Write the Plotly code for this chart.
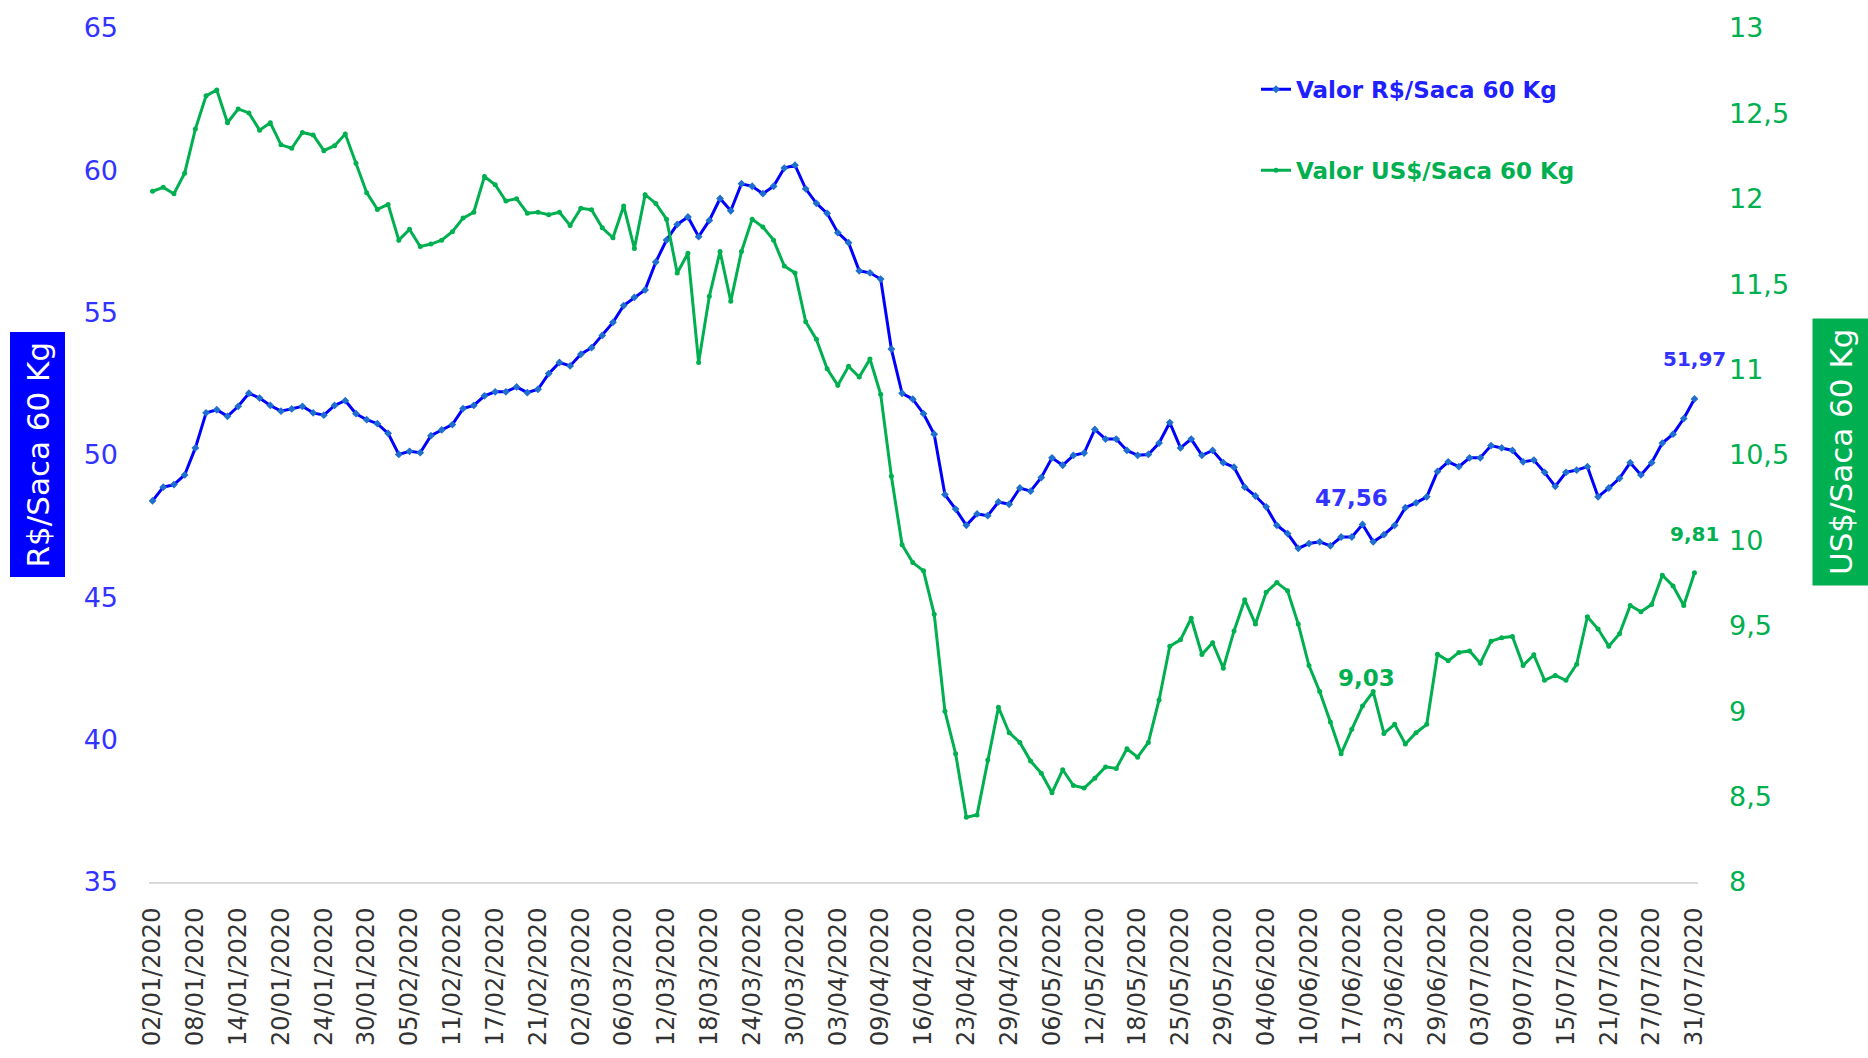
import plotly.graph_objects as go
import pandas as pd

# ---------------- data ----------------
holidays = ["2020-02-24", "2020-02-25", "2020-04-10", "2020-04-21",
            "2020-05-01", "2020-05-20", "2020-06-11"]
dates = [d.strftime("%d/%m/%Y") for d in pd.bdate_range("2020-01-02", "2020-07-31")
         if d.strftime("%Y-%m-%d") not in holidays]

brl = [48.39, 48.87, 48.96, 49.30, 50.25, 51.48, 51.59, 51.36, 51.71, 52.17,
       52.00, 51.74, 51.54, 51.62, 51.71, 51.48, 51.40, 51.74, 51.91, 51.45,
       51.24, 51.10, 50.76, 50.02, 50.13, 50.08, 50.68, 50.88, 51.07, 51.63,
       51.74, 52.08, 52.22, 52.22, 52.39, 52.19, 52.31, 52.86, 53.25, 53.13,
       53.54, 53.77, 54.20, 54.66, 55.25, 55.54, 55.80, 56.78, 57.55, 58.10,
       58.36, 57.67, 58.24, 59.01, 58.58, 59.53, 59.44, 59.18, 59.44, 60.08,
       60.18, 59.35, 58.84, 58.49, 57.81, 57.46, 56.47, 56.40, 56.18, 53.72,
       52.17, 51.96, 51.45, 50.73, 48.61, 48.10, 47.53, 47.93, 47.87, 48.35,
       48.27, 48.84, 48.73, 49.21, 49.90, 49.64, 49.99, 50.07, 50.90, 50.56,
       50.56, 50.16, 49.99, 50.02, 50.42, 51.14, 50.25, 50.56, 49.99, 50.16,
       49.73, 49.57, 48.87, 48.56, 48.18, 47.53, 47.24, 46.72, 46.89, 46.95,
       46.81, 47.12, 47.12, 47.56, 46.95, 47.20, 47.53, 48.15, 48.32, 48.53,
       49.42, 49.76, 49.59, 49.90, 49.90, 50.33, 50.25, 50.16, 49.76, 49.82,
       49.39, 48.90, 49.39, 49.47, 49.59, 48.53, 48.84, 49.18, 49.73, 49.30,
       49.73, 50.42, 50.73, 51.28, 51.97]

usd = [12.044, 12.067, 12.030, 12.150, 12.408, 12.603, 12.637, 12.445, 12.526, 12.503,
       12.402, 12.445, 12.316, 12.296, 12.388, 12.374, 12.282, 12.311, 12.379, 12.208,
       12.036, 11.938, 11.967, 11.758, 11.821, 11.721, 11.735, 11.758, 11.807, 11.887,
       11.921, 12.130, 12.082, 11.987, 12.001, 11.916, 11.921, 11.907, 11.921, 11.844,
       11.944, 11.936, 11.830, 11.772, 11.958, 11.709, 12.024, 11.973, 11.881, 11.566,
       11.681, 11.042, 11.429, 11.692, 11.400, 11.692, 11.881, 11.835, 11.758, 11.606,
       11.566, 11.280, 11.177, 11.005, 10.908, 11.019, 10.956, 11.062, 10.856, 10.375,
       9.974, 9.870, 9.822, 9.567, 9.000, 8.751, 8.379, 8.393, 8.714, 9.023,
       8.874, 8.817, 8.708, 8.637, 8.522, 8.657, 8.565, 8.550, 8.608, 8.674,
       8.665, 8.780, 8.731, 8.817, 9.066, 9.381, 9.418, 9.544, 9.332, 9.401,
       9.252, 9.470, 9.653, 9.510, 9.696, 9.753, 9.705, 9.510, 9.267, 9.115,
       8.937, 8.751, 8.894, 9.030, 9.115, 8.870, 8.923, 8.808, 8.874, 8.923,
       9.333, 9.295, 9.344, 9.353, 9.281, 9.410, 9.430, 9.438, 9.267, 9.330,
       9.181, 9.209, 9.181, 9.275, 9.553, 9.481, 9.381, 9.453, 9.619, 9.582,
       9.625, 9.796, 9.733, 9.619, 9.810]

tick_labels = dates[::4]
left_ticks = [35, 40, 45, 50, 55, 60, 65]
right_ticks = [8, 8.5, 9, 9.5, 10, 10.5, 11, 11.5, 12, 12.5, 13]

# labelled points
label_idx_mid = 113
label_idx_end = 144

# ---------------- layout constants ----------------
W, H = 1868, 1058
L, R, T, B = 149, 170, 26, 174
PW, PH = W - L - R, H - T - B
FONT = "DejaVu Sans"
BLUE = "#0000FF"
BLUE_TXT = "#3333FF"
GREEN = "#00B050"


def px_x(px):
    return (px - L) / PW


def px_y(py):
    return 1 - (py - T) / PH


fig = go.Figure()
fig.add_trace(go.Scatter(
    x=dates, y=brl, name="<b><span style='color:#2020FF'>Valor R$/Saca 60 Kg</span></b>",
    mode="lines+markers", legendgroup="brl",
    line=dict(color=BLUE, width=3),
    marker=dict(symbol="diamond", size=6, color="#1F6FD0"),
))
fig.add_trace(go.Scatter(
    x=dates, y=usd, name="<b><span style='color:#00B050'>Valor US$/Saca 60 Kg</span></b>",
    mode="lines+markers", yaxis="y2", legendgroup="usd",
    line=dict(color=GREEN, width=3),
    marker=dict(symbol="circle", size=5, color=GREEN),
))

annotations = [
    # axis title boxes
    dict(text="R$/Saca 60 Kg", xref="paper", yref="paper", x=px_x(37.5), y=px_y(455),
         xanchor="center", yanchor="middle",
         showarrow=False, textangle=-90, bgcolor=BLUE, borderpad=9,
         font=dict(family=FONT, size=31, color="white")),
    dict(text="US$/Saca 60 Kg", xref="paper", yref="paper", x=px_x(1841), y=px_y(452),
         xanchor="center", yanchor="middle",
         showarrow=False, textangle=-90, bgcolor=GREEN, borderpad=10,
         font=dict(family=FONT, size=31, color="white")),
    # data labels
    dict(text="<b>51,97</b>", x=dates[label_idx_end], y=brl[label_idx_end], xref="x", yref="y",
         showarrow=False, yshift=40, font=dict(family=FONT, size=20, color=BLUE_TXT)),
    dict(text="<b>9,81</b>", x=dates[label_idx_end], y=usd[label_idx_end], xref="x", yref="y2",
         showarrow=False, yshift=39, font=dict(family=FONT, size=20, color=GREEN)),
    dict(text="<b>47,56</b>", x=dates[label_idx_mid], y=brl[label_idx_mid], xref="x", yref="y",
         showarrow=False, yshift=26, xshift=-11, font=dict(family=FONT, size=23, color=BLUE_TXT)),
    dict(text="<b>9,03</b>", x=dates[label_idx_mid], y=usd[label_idx_mid], xref="x", yref="y2",
         showarrow=False, yshift=28, xshift=4, font=dict(family=FONT, size=23, color=GREEN)),
]

fig.update_layout(
    width=W, height=H,
    margin=dict(l=L, r=R, t=T, b=B, pad=0),
    paper_bgcolor="white", plot_bgcolor="white",
    separators=", ",
    font=dict(family=FONT),
    showlegend=True,
    legend=dict(x=px_x(1256), y=px_y(66), xanchor="left", yanchor="top",
                bgcolor="rgba(0,0,0,0)", traceorder="grouped", tracegroupgap=48,
                font=dict(family=FONT, size=23)),
    xaxis=dict(type="category", range=[-0.33, 144.33],
               tickmode="array", tickvals=tick_labels, ticktext=tick_labels,
               tickangle=-90, tickfont=dict(family=FONT, size=24, color="#333333"),
               showgrid=False, zeroline=False, showline=True, linecolor="#D9D9D9",
               linewidth=2, ticks="", ticklabelstandoff=14),
    yaxis=dict(range=[35, 65], tickmode="array", tickvals=left_ticks,
               tickfont=dict(family=FONT, size=27, color=BLUE_TXT),
               showgrid=False, zeroline=False, showline=False, ticks="",
               ticklabelstandoff=30),
    yaxis2=dict(range=[8, 13], overlaying="y", side="right", tickmode="array",
                tickvals=right_ticks,
                tickfont=dict(family=FONT, size=27, color=GREEN),
                showgrid=False, zeroline=False, showline=False, ticks="",
                ticklabelstandoff=30),
    annotations=annotations,
)

fig.write_html("out.html", config={"displayModeBar": False},
               post_script="document.body.style.margin='0';document.body.style.overflow='hidden';")
